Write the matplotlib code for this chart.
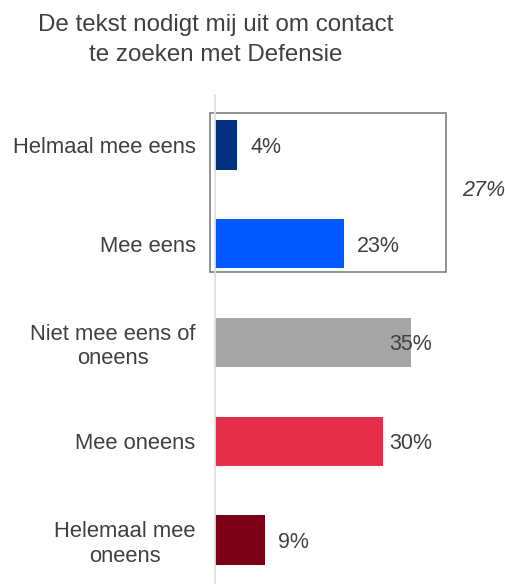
import matplotlib
matplotlib.use('Agg')
import matplotlib.pyplot as plt
from matplotlib.patches import Rectangle

plt.rcParams['font.family'] = ['Liberation Sans', 'DejaVu Sans']

# data
categories = ['Helmaal mee eens', 'Mee eens', 'Niet mee eens of\noneens',
              'Mee oneens', 'Helemaal mee\noneens']
values = [4, 23, 35, 30, 9]
colors = ['#00307f', '#005aff', '#a6a6a6', '#e52f4a', '#7a0015']
agree_total = '27%'
title = 'De tekst nodigt mij uit om contact\nte zoeken met Defensie'

txt = '#404040'
fs = 15.5

fig = plt.figure(figsize=(5.06, 5.84), dpi=100)
ax = fig.add_axes([215 / 506, 0, 280 / 506, 1 - 95 / 584])

y = range(len(values))
ax.barh(y, values, height=0.5, color=colors)
ax.set_xlim(0, 50)
ax.set_ylim(4.446, -0.506)

# value labels (capped so the long bars keep their label in view)
for i, v in enumerate(values):
    ax.text(min(v + 2.3, 31.1), i, f'{v}%', va='center_baseline', ha='left',
            fontsize=fs, color=txt)

ax.set_yticks(list(y))
ax.set_yticklabels(categories, fontsize=15.8, color=txt, multialignment='center')
ax.tick_params(axis='y', length=0, pad=14)
ax.set_xticks([])
for s in ['top', 'right', 'bottom']:
    ax.spines[s].set_visible(False)
ax.spines['left'].set_color('#e0e0e0')
ax.spines['left'].set_linewidth(1.3)

# box around the "eens" group with its total
ax.add_patch(Rectangle((-0.9, -0.324), 42.15, 1.61, fill=False,
                       edgecolor='#7f7f7f', linewidth=1.2, clip_on=False))
ax.text(44.1, 0.435, agree_total, va='center_baseline', ha='left', fontsize=fs,
        style='italic', color=txt, clip_on=False)

fig.text(216 / 506, 1 - 40 / 584, title, ha='center', va='center',
         fontsize=17.4, color=txt, linespacing=1.42)

fig.savefig('out.png', dpi=100)
